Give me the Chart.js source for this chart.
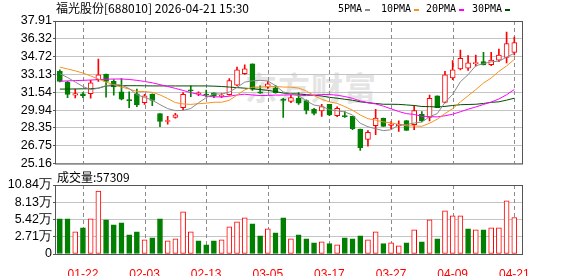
<!DOCTYPE html>
<html>
<head>
<meta charset="utf-8">
<script src="https://cdn.jsdelivr.net/npm/chart.js@4.4.1/dist/chart.umd.min.js"></script>
<style>
    html, body { margin: 0; padding: 0; background: #fff; }
    #wrap { position: relative; width: 578px; height: 276px; overflow: hidden; }
    #priceChart { position: absolute; left: 0; top: 0; }
    #volChart { position: absolute; left: 0; top: 172px; }
    .txt { position: absolute; white-space: nowrap; color: #000; }
    #title { left: 56px; top: 0; font: 12px/16px 'Noto Sans CJK SC', sans-serif; }
    #volTitle { left: 57px; top: 169px; font: 12px/16px 'Noto Sans CJK SC', sans-serif; }
    #legend .lbl { position: absolute; top: 3px; font: 10px/12px 'DejaVu Sans Mono', monospace; white-space: nowrap; }
    #legend .dash { position: absolute; top: 9px; width: 5px; height: 2px; }
    #watermark { left: 245px; top: 66px; font: bold 32px/40px 'Noto Sans CJK SC', sans-serif; color: #e4e4e4; letter-spacing: 1px; }
</style>
</head>
<body>
<div id="wrap">
    <div id="watermark" class="txt">东方财富</div>
    <canvas id="priceChart" width="578" height="172"></canvas>
    <canvas id="volChart" width="578" height="104"></canvas>
    <div id="title" class="txt">福光股份[688010] 2026-04-21 15:30</div>
    <div id="legend"></div>
    <div id="volTitle" class="txt">成交量:57309</div>
</div>
<script>
// trading days shown
const dates = [
    '01-19', '01-20', '01-21', '01-22', '01-23', '01-26', '01-27', '01-28', '01-29', '01-30',
    '02-02', '02-03', '02-04', '02-05', '02-06', '02-09', '02-10', '02-11', '02-12', '02-13',
    '02-24', '02-25', '02-26', '02-27', '03-02', '03-03', '03-04', '03-05', '03-06', '03-09',
    '03-10', '03-11', '03-12', '03-13', '03-16', '03-17', '03-18', '03-19', '03-20', '03-23',
    '03-24', '03-25', '03-26', '03-27', '03-30', '03-31', '04-01', '04-02', '04-03', '04-07',
    '04-08', '04-09', '04-10', '04-13', '04-14', '04-15', '04-16', '04-17', '04-20', '04-21'
];
const xTickLabels = ['01-22', '02-03', '02-13', '03-05', '03-17', '03-27', '04-09', '04-21'];

const opens = [
    33.40, 32.45, 31.28, 31.40, 31.40, 32.66, 33.16, 32.51, 31.57, 30.81,
    31.40, 30.60, 31.34, 29.63, 28.92, 29.28, 30.16, 31.72, 31.37, 31.37,
    31.48, 31.16, 31.31, 32.16, 33.19, 34.07, 31.57, 31.98, 31.92, 30.92,
    30.72, 31.00, 30.80, 30.01, 29.87, 30.45, 29.45, 29.45, 29.37, 28.25,
    27.31, 28.54, 29.22, 28.57, 28.54, 29.01, 28.63, 29.57, 29.28, 31.22,
    30.63, 32.81, 33.63, 33.69, 34.10, 34.28, 34.01, 34.40, 34.66, 35.10
];
const highs = [
    33.54, 32.51, 31.81, 31.51, 32.60, 34.51, 33.16, 32.66, 32.75, 31.57,
    31.81, 31.34, 31.40, 29.63, 29.37, 29.66, 31.51, 32.10, 31.57, 31.72,
    31.48, 31.42, 32.75, 33.78, 33.98, 34.07, 32.10, 32.51, 32.16, 30.98,
    31.27, 31.50, 30.85, 30.10, 30.45, 30.45, 30.22, 29.81, 29.37, 28.25,
    28.10, 30.01, 29.22, 28.92, 28.98, 29.01, 30.31, 29.81, 31.28, 31.22,
    33.40, 34.37, 35.31, 34.81, 34.87, 35.10, 35.10, 35.39, 36.92, 36.48
];
const lows = [
    32.45, 31.04, 31.02, 31.06, 31.00, 32.51, 31.10, 31.28, 30.84, 30.16,
    30.25, 30.45, 30.34, 28.45, 28.69, 29.22, 29.95, 31.13, 31.22, 31.13,
    31.04, 31.04, 31.28, 32.10, 33.13, 31.69, 31.42, 31.87, 31.45, 29.28,
    30.60, 30.45, 29.60, 29.51, 29.37, 29.45, 29.34, 29.28, 28.19, 26.34,
    26.72, 27.75, 28.48, 28.28, 28.04, 28.13, 28.19, 28.87, 28.98, 30.16,
    30.57, 32.66, 33.54, 33.48, 33.87, 33.98, 33.92, 34.28, 34.16, 34.87
];
const closes = [
    32.51, 31.34, 31.42, 31.22, 32.37, 33.10, 32.51, 32.01, 30.92, 30.78,
    30.40, 31.22, 30.81, 28.92, 28.98, 29.51, 31.34, 31.66, 31.48, 31.28,
    31.19, 31.25, 32.57, 33.54, 33.63, 31.81, 31.45, 32.28, 31.48, 30.80,
    31.05, 30.55, 29.90, 29.63, 30.25, 29.51, 30.10, 29.34, 28.28, 26.57,
    27.95, 29.22, 28.48, 28.69, 28.69, 28.13, 29.90, 28.98, 30.98, 30.16,
    33.10, 33.54, 34.57, 34.16, 34.19, 33.98, 34.42, 34.87, 35.90, 35.98
];

// volume in 万 (10k shares)
const volumes = [
    5.52, 5.52, 3.49, 4.12, 5.52, 9.90, 5.37, 4.58, 4.90, 3.02,
    3.49, 2.24, 2.55, 5.52, 2.08, 2.40, 6.62, 3.49, 2.08, 1.46,
    2.08, 2.24, 4.27, 5.05, 5.68, 4.74, 2.87, 3.96, 3.33, 5.68,
    2.40, 3.02, 2.40, 1.77, 1.93, 1.62, 1.46, 2.55, 2.40, 2.87,
    2.24, 3.49, 1.62, 1.77, 1.30, 1.77, 3.80, 1.93, 5.37, 2.40,
    6.77, 5.99, 5.99, 3.96, 3.80, 3.80, 4.12, 4.12, 8.34, 5.73
];

const ma5 = [
    33.20, 32.85, 32.45, 32.05, 31.77, 31.89, 32.12, 32.24, 32.18, 31.86,
    31.32, 31.07, 30.83, 30.43, 30.07, 29.89, 29.91, 30.08, 30.59, 31.05,
    31.39, 31.37, 31.55, 31.97, 32.44, 32.56, 32.60, 32.54, 32.13, 31.56,
    31.41, 31.23, 30.76, 30.39, 30.28, 29.97, 29.88, 29.77, 29.50, 28.76,
    28.45, 28.27, 28.10, 28.18, 28.61, 28.64, 28.78, 28.88, 29.34, 29.63,
    30.62, 31.35, 32.47, 33.11, 33.91, 34.09, 34.26, 34.32, 34.67, 35.03
];
const ma10 = [
    33.78, 33.62, 33.45, 33.25, 33.00, 32.72, 32.45, 32.20, 32.00, 31.82,
    31.61, 31.60, 31.53, 31.30, 30.97, 30.61, 30.49, 30.45, 30.51, 30.56,
    30.64, 30.64, 30.82, 31.28, 31.75, 31.98, 31.99, 32.05, 32.05, 32.00,
    31.99, 31.91, 31.64, 31.24, 30.90, 30.67, 30.54, 30.25, 29.93, 29.50,
    29.17, 29.04, 28.88, 28.80, 28.65, 28.53, 28.52, 28.49, 28.76, 29.12,
    29.63, 30.07, 30.67, 31.22, 31.77, 32.36, 32.81, 33.40, 33.89, 34.47
];
const ma20 = [
    32.52, 32.55, 32.58, 32.60, 32.63, 32.66, 32.70, 32.72, 32.72, 32.68,
    32.60, 32.50, 32.38, 32.22, 32.05, 31.88, 31.70, 31.50, 31.35, 31.19,
    31.12, 31.12, 31.18, 31.29, 31.36, 31.29, 31.24, 31.25, 31.28, 31.28,
    31.31, 31.28, 31.23, 31.27, 31.33, 31.33, 31.27, 31.15, 30.99, 30.76,
    30.59, 30.49, 30.29, 30.05, 29.81, 29.62, 29.55, 29.38, 29.36, 29.33,
    29.43, 29.57, 29.79, 30.02, 30.22, 30.44, 30.66, 30.93, 31.31, 31.78
];
const ma30 = [
    31.82, 31.82, 31.83, 31.84, 31.85, 31.90, 32.10, 32.12, 32.12, 32.12,
    32.12, 32.11, 32.10, 32.10, 32.10, 32.10, 32.10, 32.10, 32.10, 32.10,
    32.08, 32.05, 32.00, 31.95, 31.90, 31.85, 31.78, 31.70, 31.60, 31.46,
    31.41, 31.38, 31.32, 31.27, 31.20, 31.08, 31.00, 30.91, 30.82, 30.68,
    30.60, 30.53, 30.46, 30.46, 30.45, 30.40, 30.35, 30.26, 30.25, 30.21,
    30.27, 30.35, 30.42, 30.44, 30.46, 30.53, 30.63, 30.68, 30.83, 31.00
];

const priceTicks = [25.16, 26.75, 28.35, 29.94, 31.54, 33.13, 34.72, 36.32, 37.91];
const volTicks = [0, 2.71, 5.42, 8.13, 10.84];

const maNames = ['5PMA', '10PMA', '20PMA', '30PMA'];
const maSeries = [ma5, ma10, ma20, ma30];
const maColors = ['#8a8a8a', '#f7931e', '#ff00ff', '#004d00'];
const legendX = [338, 381, 426, 472];

const RED = '#ff0000';
const GREEN = '#007f00';

document.addEventListener('DOMContentLoaded', function () {
    buildLegend();
    initPriceChart();
    initVolumeChart();
});

function buildLegend() {
    const box = document.getElementById('legend');
    maNames.forEach((name, i) => {
        const lbl = document.createElement('div');
        lbl.className = 'lbl';
        lbl.style.left = legendX[i] + 'px';
        lbl.textContent = name;
        box.appendChild(lbl);

        const dash = document.createElement('div');
        dash.className = 'dash';
        dash.style.left = (legendX[i] + name.length * 6 + 3) + 'px';
        dash.style.background = maColors[i];
        box.appendChild(dash);
    });
}

const tickIdx = xTickLabels.map(l => dates.indexOf(l));
const isUp = closes.map((c, i) => c >= opens[i]);
const volUp = closes.map((c, i) => i > 0 && c >= closes[i - 1]);

// border box around each plot + dashed date lines
const framePlugin = {
    id: 'frame',
    beforeDatasetsDraw(chart) {
        const a = chart.chartArea;
        const ctx = chart.ctx;
        const xs = chart.scales.x;
        ctx.save();
        ctx.strokeStyle = '#8c8c8c';
        ctx.lineWidth = 1;
        ctx.setLineDash([4, 3]);
        tickIdx.forEach(i => {
            const px = Math.round(xs.getPixelForValue(i)) + 0.5;
            ctx.beginPath();
            ctx.moveTo(px, a.top);
            ctx.lineTo(px, a.bottom);
            ctx.stroke();
        });
        ctx.restore();
    },
    afterDraw(chart) {
        const a = chart.chartArea;
        const ctx = chart.ctx;
        ctx.save();
        ctx.strokeStyle = '#555';
        ctx.lineWidth = 1;
        ctx.strokeRect(a.left - 0.5, a.top + 0.5, a.right - a.left + 1, a.bottom - a.top);
        ctx.restore();
    }
};

function xScale(showLabels) {
    return {
        type: 'linear',
        min: -0.5,
        max: dates.length,
        offset: false,
        afterBuildTicks: s => { s.ticks = tickIdx.map(v => ({ value: v })); },
        afterFit: s => { s.height = showLabels ? 22 : 0; },
        ticks: {
            display: showLabels,
            autoSkip: false,
            maxRotation: 0,
            padding: 5,
            color: '#ff0000',
            font: { family: 'Liberation Sans', size: 12 },
            callback: v => dates[v]
        },
        grid: { display: false, offset: false },
        border: { display: false }
    };
}

function yScale(ticksArr, fmt) {
    return {
        min: ticksArr[0],
        max: ticksArr[ticksArr.length - 1],
        afterFit: s => { s.width = 56; },
        afterBuildTicks: s => { s.ticks = ticksArr.map(v => ({ value: v })); },
        ticks: {
            color: '#000',
            padding: 1,
            autoSkip: false,
            font: { family: 'Liberation Sans', size: 12.5 },
            callback: fmt
        },
        grid: { color: '#c4c4c4', tickColor: '#555', tickLength: 3 },
        border: { display: false }
    };
}

function initPriceChart() {
    const maSets = maSeries.map((s, k) => ({
        type: 'line',
        label: maNames[k],
        data: s.map((v, i) => ({ x: i, y: v })),
        borderColor: maColors[k],
        borderWidth: 1,
        pointRadius: 0,
        tension: 0,
        order: 0
    }));

    new Chart(document.getElementById('priceChart'), {
        type: 'bar',
        data: {
            datasets: [
                ...maSets,
                {
                    label: 'body',
                    data: opens.map((o, i) => ({ x: i, y: [o, closes[i]] })),
                    backgroundColor: isUp.map(u => u ? '#ffffff' : GREEN),
                    borderColor: isUp.map(u => u ? RED : GREEN),
                    borderWidth: 1,
                    borderSkipped: false,
                    barThickness: 5,
                    minBarLength: 1,
                    grouped: false,
                    order: 1
                },
                {
                    label: 'wick',
                    data: lows.map((l, i) => ({ x: i, y: [l, highs[i]] })),
                    backgroundColor: isUp.map(u => u ? RED : GREEN),
                    barThickness: 1,
                    grouped: false,
                    order: 2
                }
            ]
        },
        options: {
            responsive: false,
            animation: false,
            layout: { padding: { top: 21, right: 56, bottom: 6, left: 0 } },
            plugins: { legend: { display: false }, tooltip: { enabled: false } },
            scales: {
                x: xScale(false),
                y: yScale(priceTicks, v => v.toFixed(2))
            }
        },
        plugins: [framePlugin]
    });
}

function initVolumeChart() {
    new Chart(document.getElementById('volChart'), {
        type: 'bar',
        data: {
            datasets: [{
                label: '成交量',
                data: volumes.map((v, i) => ({ x: i, y: v })),
                backgroundColor: volUp.map(u => u ? '#ffffff' : GREEN),
                borderColor: volUp.map(u => u ? RED : GREEN),
                borderWidth: 1,
                borderSkipped: false,
                barThickness: 5
            }]
        },
        options: {
            responsive: false,
            animation: false,
            layout: { padding: { top: 13, right: 56, bottom: 0, left: 0 } },
            plugins: { legend: { display: false }, tooltip: { enabled: false } },
            scales: {
                x: xScale(true),
                y: yScale(volTicks, v => v === 0 ? '0' : v.toFixed(2) + '万')
            }
        },
        plugins: [framePlugin]
    });
}
</script>
</body>
</html>
